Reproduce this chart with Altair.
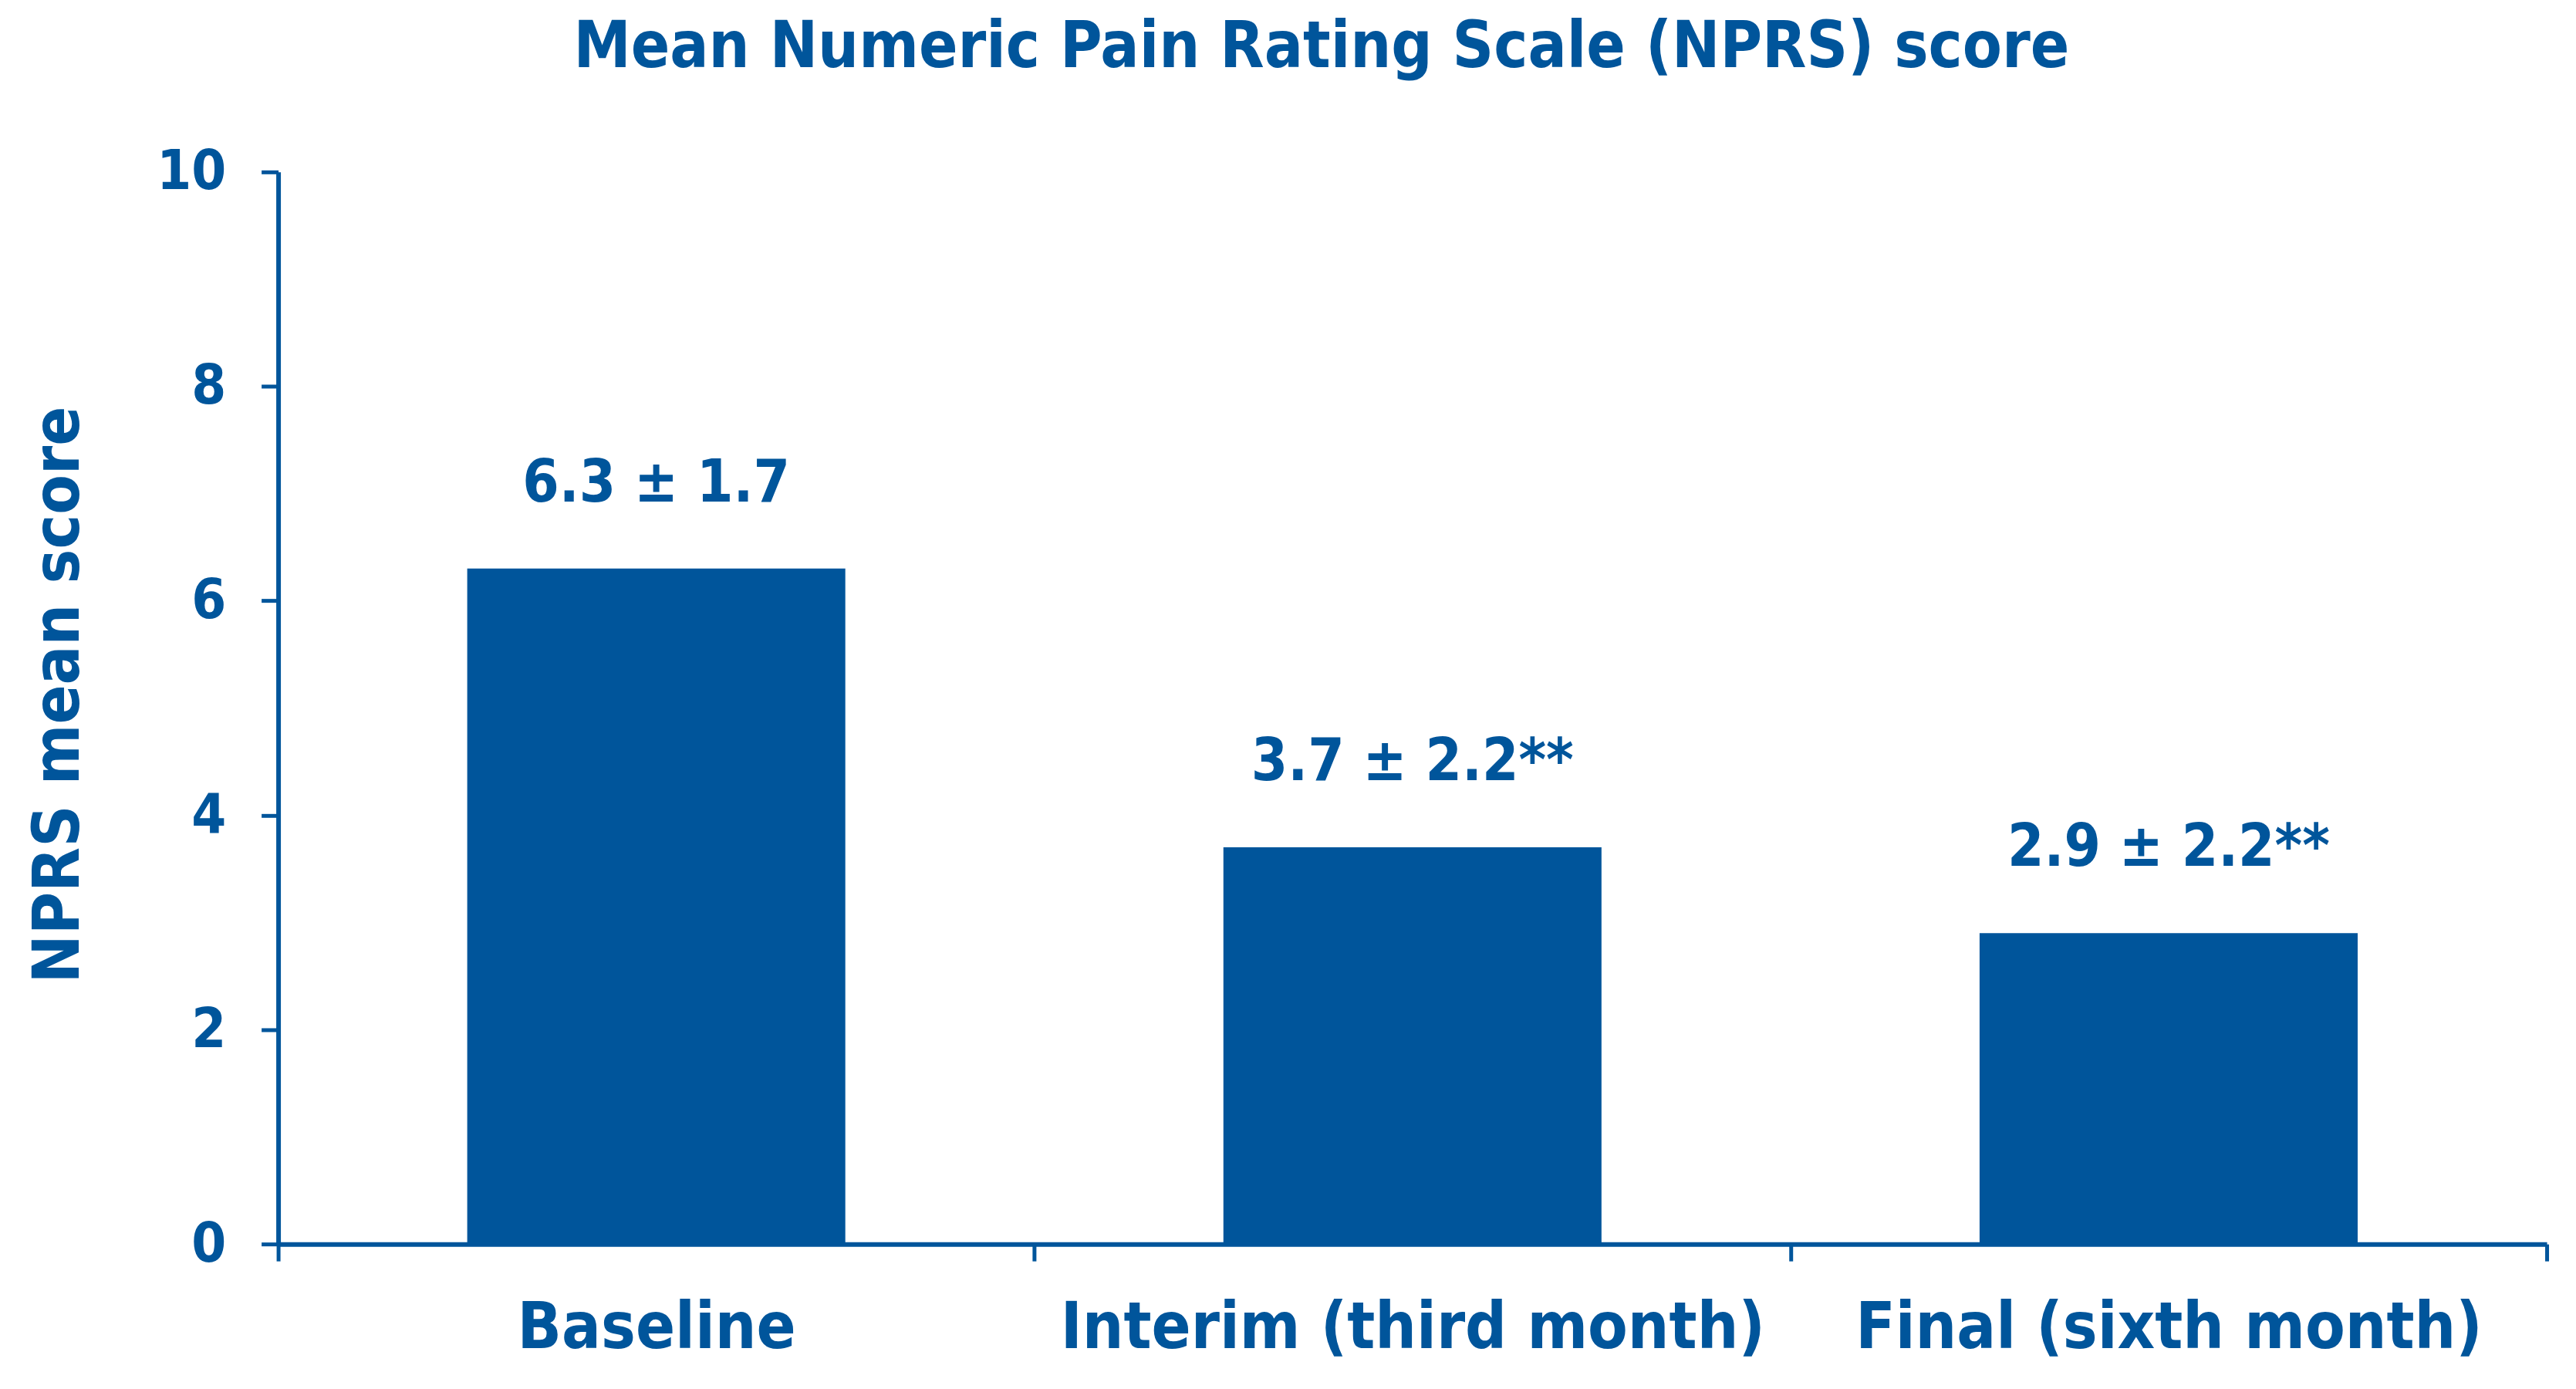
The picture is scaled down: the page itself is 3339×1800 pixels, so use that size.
import altair as alt
import pandas as pd

categories = ["Baseline", "Interim (third month)", "Final (sixth month)"]
means = [6.3, 3.7, 2.9]
sds = [1.7, 2.2, 2.2]
stars = ["", "**", "**"]
y_ticks = [0, 2, 4, 6, 8, 10]

BLUE = "#00559B"
FONT = "DejaVu Sans Condensed, DejaVu Sans, sans-serif"

df = pd.DataFrame({"phase": categories, "mean": means, "sd": sds, "star": stars})
df["label"] = [f"{m} \u00b1 {s}{k}" for m, s, k in zip(means, sds, stars)]

x = alt.X(
    "phase:N",
    sort=categories,
    scale=alt.Scale(paddingInner=0, paddingOuter=0),
    axis=alt.Axis(
        title=None, labelAngle=0, tickBand="extent",
        labelFont=FONT, labelFontSize=84, labelFontWeight="bold", labelColor=BLUE,
        labelBaseline="alphabetic", labelPadding=113, labelLimit=3000,
        tickSize=22, tickWidth=5, tickColor=BLUE,
        domainColor=BLUE, domainWidth=6,
    ),
)
y = alt.Y(
    "mean:Q",
    scale=alt.Scale(domain=[0, 10]),
    axis=alt.Axis(
        values=y_ticks, grid=False,
        title="NPRS mean score", titleFont=FONT, titleFontSize=84, titleFontWeight="bold",
        titleColor=BLUE, titleAngle=270, titleAlign="center", titleBaseline="alphabetic",
        titleX=-259, titleY=678,
        labelFont=FONT, labelFontSize=72, labelFontWeight="bold", labelColor=BLUE,
        labelPadding=46,
        tickSize=22, tickWidth=5, tickColor=BLUE,
        domainColor=BLUE, domainWidth=6,
    ),
)

bars = alt.Chart(df).mark_bar(color=BLUE, width=alt.RelativeBandSize(0.5)).encode(x=x, y=y)
labels = alt.Chart(df).mark_text(
    dy=-87, baseline="alphabetic", align="center",
    font=FONT, fontSize=76, fontWeight="bold", color=BLUE,
).encode(x=x, y=y, text="label:N")

chart = alt.layer(bars, labels).properties(
    width=2944,
    height=1391,
    title=alt.Title(
        "Mean Numeric Pain Rating Scale (NPRS) score",
        font=FONT, fontSize=83, fontWeight="bold", color=BLUE,
        anchor="middle", frame="group", dx=-118, offset=17, baseline="alphabetic",
    ),
    autosize=alt.AutoSizeParams(type="none"),
    padding={"left": 353, "top": 214, "right": 30, "bottom": 170},
).configure_view(stroke=None)

chart.save("out.html", embed_options={"renderer": "svg", "actions": False})
